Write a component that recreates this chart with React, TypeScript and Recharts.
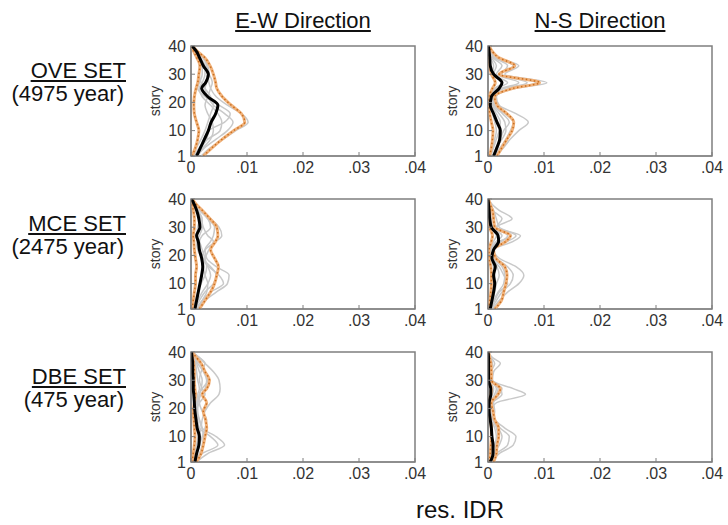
import { LineChart, Line, XAxis, YAxis, ReferenceArea } from "recharts";

// story levels where the drift profiles were read
const STORIES = [1, 4, 7, 10, 13, 16, 19, 22, 25, 27, 30, 33, 36, 38, 40];
const X_TICKS = [0, 0.01, 0.02, 0.03, 0.04];
const Y_TICKS = [1, 10, 20, 30, 40];
const DIRECTIONS = ["E-W Direction", "N-S Direction"];
const SET_NAMES = ["OVE SET", "MCE SET", "DBE SET"];
const RETURN_PERIODS = ["(4975 year)", "(2475 year)", "(475 year)"];

// residual IDR, in thousandths
const oveEwGray = [
  [1.8, 3.5, 5.8, 8.0, 10.2, 9.0, 6.5, 4.5, 3.5, 3.2, 3.0, 2.8, 2.2, 1.2, 0.2],
  [1.0, 2.5, 4.5, 6.5, 7.5, 6.0, 4.0, 3.0, 2.5, 2.8, 3.2, 3.0, 2.0, 1.0, 0.1],
  [0.6, 1.5, 3.0, 5.2, 5.5, 4.8, 3.5, 2.0, 1.5, 2.0, 2.5, 2.5, 1.6, 0.8, 0.1],
  [1.2, 2.2, 3.5, 4.0, 3.8, 3.0, 2.5, 3.0, 3.5, 3.8, 3.2, 2.0, 1.4, 0.8, 0.1],
  [0.4, 1.0, 1.8, 2.5, 3.0, 3.5, 4.0, 3.5, 2.5, 1.8, 1.5, 1.5, 1.2, 0.6, 0.1],
  [0.8, 1.8, 2.8, 3.2, 6.0, 7.0, 5.0, 2.5, 1.2, 1.5, 2.0, 2.0, 1.3, 0.7, 0.1],
];
const oveEwOrange = [
  [2.2, 3.8, 5.6, 7.6, 9.6, 9.0, 7.2, 5.6, 4.6, 4.4, 4.0, 3.4, 2.4, 1.2, 0.2],
  [0.2, 0.8, 1.2, 1.4, 1.0, 0.6, 0.5, 0.6, 0.9, 1.2, 1.4, 1.6, 1.0, 0.5, 0.1],
];
const oveEwMedian = [1.0, 1.7, 2.4, 3.1, 3.6, 4.4, 4.8, 3.0, 1.9, 2.6, 3.1, 2.2, 1.5, 1.0, 0.2];

const oveNsGray = [
  [1.5, 2.8, 4.0, 5.5, 7.2, 5.0, 2.0, 1.5, 5.0, 10.5, 3.0, 5.5, 1.8, 0.8, 0.2],
  [1.2, 2.2, 3.2, 4.0, 4.5, 3.0, 1.2, 1.0, 4.0, 8.5, 2.2, 4.5, 1.2, 0.5, 0.1],
  [0.8, 1.5, 2.5, 3.2, 3.0, 2.0, 0.8, 0.6, 2.5, 5.5, 1.5, 2.5, 0.8, 0.4, 0.1],
  [0.5, 1.0, 1.5, 2.0, 2.2, 1.5, 0.6, 0.5, 1.5, 3.5, 1.0, 1.5, 0.6, 0.3, 0.1],
  [1.0, 1.8, 2.2, 2.8, 3.8, 2.6, 1.0, 0.8, 3.0, 7.0, 2.5, 3.5, 1.0, 0.5, 0.1],
  [0.4, 0.8, 1.2, 1.5, 1.2, 0.8, 0.3, 0.4, 1.2, 2.5, 0.8, 1.0, 0.4, 0.2, 0.0],
];
const oveNsOrange = [
  [1.6, 2.5, 3.4, 4.3, 4.6, 3.4, 1.6, 1.2, 4.5, 9.2, 2.0, 4.8, 1.8, 0.8, 0.2],
  [0.3, 0.6, 0.8, 0.9, 0.6, 0.3, 0.1, 0.2, 0.8, 1.3, 0.6, 0.3, 0.2, 0.1, 0.0],
];
const oveNsMedian = [1.0, 1.6, 2.1, 2.2, 1.6, 1.0, 0.4, 0.6, 2.0, 2.5, 1.0, 0.4, 0.3, 0.2, 0.1];

const mceEwGray = [
  [1.0, 2.5, 4.5, 6.5, 6.8, 4.5, 2.8, 2.5, 3.5, 4.0, 4.2, 3.0, 1.8, 1.0, 0.2],
  [0.8, 2.0, 3.5, 5.8, 5.0, 3.2, 2.0, 2.5, 4.5, 5.5, 5.0, 3.5, 2.0, 1.0, 0.2],
  [0.5, 1.2, 2.0, 3.0, 3.5, 3.0, 2.2, 1.5, 1.5, 2.0, 3.5, 3.0, 1.5, 0.8, 0.1],
  [0.6, 1.5, 2.5, 4.0, 4.5, 3.5, 2.0, 1.2, 1.0, 1.5, 2.0, 2.0, 1.2, 0.6, 0.1],
  [0.3, 0.8, 1.2, 1.8, 2.5, 2.8, 2.5, 2.0, 1.5, 1.0, 1.2, 1.5, 1.0, 0.5, 0.1],
  [1.2, 2.0, 2.8, 3.0, 2.5, 2.2, 2.5, 3.2, 4.0, 3.0, 2.2, 1.8, 1.2, 0.6, 0.1],
];
const mceEwOrange = [
  [1.5, 2.5, 3.5, 4.2, 4.6, 4.9, 4.2, 3.5, 4.4, 4.8, 4.6, 3.4, 2.0, 1.0, 0.2],
  [0.2, 0.4, 0.6, 0.8, 0.8, 1.0, 0.8, 0.6, 0.5, 0.4, 0.6, 0.6, 0.4, 0.2, 0.0],
];
const mceEwMedian = [0.7, 1.0, 1.3, 1.6, 1.9, 2.1, 1.9, 1.5, 1.3, 1.0, 1.6, 1.4, 1.0, 0.6, 0.1];

const mceNsGray = [
  [0.8, 2.0, 3.5, 5.5, 6.4, 5.0, 2.0, 1.0, 4.5, 5.8, 1.5, 4.3, 2.0, 0.8, 0.1],
  [0.6, 1.5, 2.5, 4.0, 4.5, 3.5, 1.5, 0.8, 3.5, 5.0, 2.0, 1.5, 1.0, 0.5, 0.1],
  [0.4, 1.0, 1.8, 2.8, 3.0, 2.5, 1.0, 0.6, 2.5, 3.5, 1.2, 1.0, 0.6, 0.3, 0.1],
  [0.3, 0.8, 1.2, 1.5, 2.0, 1.6, 0.6, 0.4, 1.5, 2.5, 0.8, 0.6, 0.4, 0.2, 0.0],
  [0.5, 1.2, 2.0, 3.5, 2.8, 2.0, 0.8, 0.5, 2.0, 4.2, 1.5, 2.5, 0.8, 0.4, 0.1],
  [0.2, 0.5, 0.8, 1.0, 1.2, 1.0, 0.4, 0.3, 1.0, 1.5, 0.5, 0.4, 0.3, 0.1, 0.0],
];
const mceNsOrange = [
  [1.2, 2.4, 2.8, 3.2, 3.4, 3.0, 1.4, 1.0, 3.2, 4.0, 1.2, 1.0, 0.8, 0.4, 0.1],
  [0.1, 0.3, 0.5, 0.6, 0.6, 0.5, 0.2, 0.2, 0.6, 0.8, 0.3, 0.3, 0.3, 0.2, 0.0],
];
const mceNsMedian = [0.4, 0.7, 1.0, 1.2, 1.0, 1.3, 0.7, 1.0, 1.9, 1.8, 0.6, 0.3, 0.2, 0.1, 0.0];

const dbeEwGray = [
  [0.5, 1.0, 1.5, 1.5, 1.8, 2.0, 2.5, 3.5, 5.0, 5.2, 5.0, 4.0, 2.5, 1.5, 0.2],
  [1.0, 3.0, 6.0, 4.5, 2.0, 1.5, 1.2, 1.2, 1.5, 1.8, 2.0, 1.5, 1.0, 0.6, 0.1],
  [0.6, 2.0, 4.8, 3.5, 1.5, 1.2, 1.0, 1.2, 1.8, 2.5, 2.8, 2.2, 1.2, 0.6, 0.1],
  [0.4, 1.0, 1.5, 2.0, 2.5, 2.8, 2.0, 1.5, 1.5, 2.0, 3.0, 2.5, 1.5, 0.8, 0.1],
  [0.2, 0.6, 1.0, 1.2, 1.0, 0.8, 0.8, 1.0, 1.2, 1.5, 1.2, 1.0, 0.8, 0.5, 0.1],
  [0.8, 1.5, 2.0, 2.2, 2.0, 1.5, 1.0, 1.5, 2.5, 2.0, 1.5, 1.8, 2.5, 1.5, 0.2],
];
const dbeEwOrange = [
  [1.0, 1.8, 2.2, 2.5, 2.8, 2.6, 2.2, 2.8, 2.0, 2.8, 3.3, 2.5, 1.8, 1.0, 0.2],
  [0.2, 0.4, 0.6, 0.7, 0.6, 0.5, 0.4, 0.6, 0.8, 0.7, 0.6, 0.6, 0.5, 0.3, 0.0],
];
const dbeEwMedian = [0.7, 1.0, 1.4, 1.5, 1.1, 0.9, 0.7, 0.6, 0.5, 0.4, 0.4, 0.3, 0.3, 0.2, 0.1];

const dbeNsGray = [
  [0.6, 2.0, 4.5, 5.0, 3.0, 1.2, 0.5, 1.5, 6.7, 4.5, 0.8, 1.0, 2.2, 0.8, 0.1],
  [0.5, 1.5, 3.5, 3.8, 2.2, 1.0, 0.4, 0.8, 2.5, 2.2, 0.6, 0.5, 0.8, 0.4, 0.1],
  [0.3, 1.0, 2.0, 2.5, 1.8, 0.8, 0.3, 0.6, 2.0, 2.5, 0.8, 0.5, 0.5, 0.3, 0.0],
  [0.2, 0.6, 1.2, 1.5, 1.2, 0.6, 0.3, 0.4, 1.2, 1.5, 0.5, 0.3, 0.3, 0.2, 0.0],
  [0.4, 1.0, 1.5, 1.8, 1.5, 1.0, 1.2, 1.0, 1.5, 1.8, 0.6, 0.6, 1.2, 0.5, 0.1],
  [0.1, 0.4, 0.6, 0.8, 0.6, 0.4, 0.2, 0.3, 0.8, 1.0, 0.3, 0.2, 0.2, 0.1, 0.0],
];
const dbeNsOrange = [
  [1.0, 1.5, 1.6, 1.9, 1.9, 1.2, 0.9, 0.6, 1.8, 2.2, 0.6, 0.6, 0.5, 0.3, 0.1],
  [0.2, 0.4, 0.5, 0.6, 0.6, 0.4, 0.2, 0.2, 0.5, 0.6, 0.2, 0.2, 0.2, 0.1, 0.0],
];
const dbeNsMedian = [0.4, 0.9, 0.9, 0.7, 0.6, 0.4, 0.2, 0.2, 0.5, 0.5, 0.1, 0.1, 0.1, 0.1, 0.0];

const PANELS = [
  [
    { gray: oveEwGray, orange: oveEwOrange, median: oveEwMedian },
    { gray: oveNsGray, orange: oveNsOrange, median: oveNsMedian },
  ],
  [
    { gray: mceEwGray, orange: mceEwOrange, median: mceEwMedian },
    { gray: mceNsGray, orange: mceNsOrange, median: mceNsMedian },
  ],
  [
    { gray: dbeEwGray, orange: dbeEwOrange, median: dbeEwMedian },
    { gray: dbeNsGray, orange: dbeNsOrange, median: dbeNsMedian },
  ],
];

const FONT = '"Liberation Sans", Arial, Helvetica, sans-serif';
const COL_LEFT = [191, 488];
const ROW_TOP = [46, 199, 352];
const PLOT_W = 224;
const PLOT_H = 110;
const AXIS_W = 40;
const M_TOP = 10;
const M_RIGHT = 18;
const AXIS_H = 30;

const fmtX = (v: number) => (v === 0 ? "0" : "." + String(Math.round(v * 100)).padStart(2, "0"));

type PanelProps = { gray: number[][]; orange: number[][]; median: number[]; left: number; top: number };

function Panel({ gray, orange, median, left, top }: PanelProps) {
  const rows = STORIES.map((story, i) => {
    const row: Record<string, number> = { story, median: median[i] / 1000 };
    gray.forEach((g, k) => (row[`g${k}`] = g[i] / 1000));
    orange.forEach((o, k) => (row[`o${k}`] = o[i] / 1000));
    return row;
  });
  const tickStyle = { fill: "#333", fontSize: 16, fontFamily: FONT };
  return (
    <div style={{ position: "absolute", left: left - AXIS_W, top: top - M_TOP }}>
      <LineChart
        layout="vertical"
        width={AXIS_W + PLOT_W + M_RIGHT}
        height={M_TOP + PLOT_H + AXIS_H}
        data={rows}
        margin={{ top: M_TOP, right: M_RIGHT, bottom: 0, left: 0 }}
      >
        <XAxis
          type="number"
          domain={[0, 0.04]}
          ticks={X_TICKS}
          tickFormatter={fmtX}
          height={AXIS_H}
          stroke="#7f7f7f"
          tick={tickStyle}
          tickSize={-4}
          tickMargin={10}
          allowDataOverflow
        />
        <YAxis
          type="number"
          dataKey="story"
          domain={[1, 40]}
          ticks={Y_TICKS}
          reversed
          width={AXIS_W}
          stroke="#7f7f7f"
          tick={tickStyle}
          tickSize={-4}
          tickMargin={9}
          allowDataOverflow
        />
        <ReferenceArea x1={0} x2={0.04} y1={1} y2={40} fill="none" stroke="#7f7f7f" strokeWidth={1.5} ifOverflow="visible" />
        {gray.map((_, k) => (
          <Line key={`g${k}`} dataKey={`g${k}`} type="monotone" stroke="#c9c9c9" strokeWidth={1.5} dot={false} activeDot={false} isAnimationActive={false} />
        ))}
        {orange.map((_, k) => (
          <Line key={`ob${k}`} dataKey={`o${k}`} type="monotone" stroke="#f1b27a" strokeWidth={3} dot={false} activeDot={false} isAnimationActive={false} />
        ))}
        {orange.map((_, k) => (
          <Line key={`od${k}`} dataKey={`o${k}`} type="monotone" stroke="#c86f22" strokeWidth={1.5} strokeDasharray="1.5 2.5" dot={false} activeDot={false} isAnimationActive={false} />
        ))}
        <Line dataKey="median" type="monotone" stroke="#000" strokeWidth={3} dot={false} activeDot={false} isAnimationActive={false} />
      </LineChart>
    </div>
  );
}

export default function App() {
  return (
    <div style={{ position: "absolute", left: 0, top: 0, width: 728, height: 525, background: "#fff", fontFamily: FONT }}>
      {DIRECTIONS.map((d, c) => (
        <div
          key={d}
          style={{
            position: "absolute",
            left: COL_LEFT[c] - 40,
            width: PLOT_W + 80,
            top: 10,
            textAlign: "center",
            fontSize: 22,
            lineHeight: "22px",
            textDecoration: "underline",
            color: "#111",
          }}
        >
          {d}
        </div>
      ))}
      {SET_NAMES.map((name, r) => (
        <div key={name} style={{ position: "absolute", left: 0, width: 126, top: ROW_TOP[r] + 14, textAlign: "right", color: "#111" }}>
          <div style={{ fontSize: 22, lineHeight: "22px", textDecoration: "underline" }}>{name}</div>
          <div style={{ fontSize: 22, lineHeight: "22px", marginTop: 1, marginRight: 2 }}>{RETURN_PERIODS[r]}</div>
        </div>
      ))}
      {ROW_TOP.map((top) =>
        COL_LEFT.map((left) => (
          <div
            key={`s${top}-${left}`}
            style={{
              position: "absolute",
              left: left - 36 - 40,
              top: top + PLOT_H / 2 - 8,
              width: 80,
              textAlign: "center",
              fontSize: 14,
              lineHeight: "16px",
              color: "#333",
              transform: "rotate(-90deg)",
            }}
          >
            story
          </div>
        ))
      )}
      {PANELS.map((row, r) =>
        row.map((p, c) => <Panel key={`${r}-${c}`} {...p} left={COL_LEFT[c]} top={ROW_TOP[r]} />)
      )}
      <div style={{ position: "absolute", left: 360, width: 200, top: 498, textAlign: "center", fontSize: 24, lineHeight: "24px", color: "#111" }}>
        res. IDR
      </div>
    </div>
  );
}
